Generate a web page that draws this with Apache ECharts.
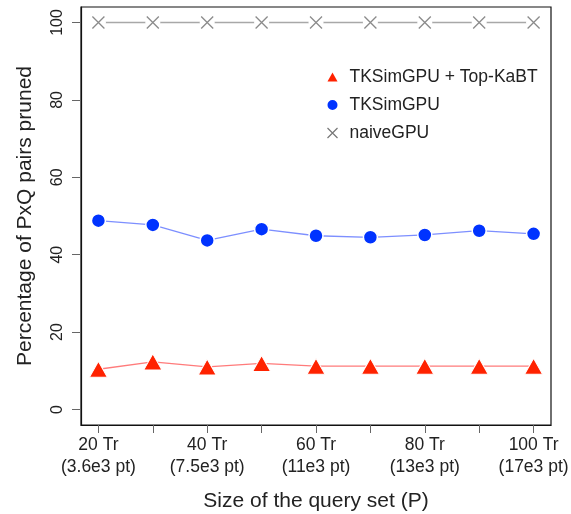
<!DOCTYPE html>
<html>
<head>
<meta charset="utf-8">
<script src="https://cdn.jsdelivr.net/npm/echarts@6/dist/echarts.min.js"></script>
<style>
  html, body { margin: 0; padding: 0; background: #fff; }
  #chart { width: 571px; height: 514px; }
</style>
</head>
<body>
<div id="chart"></div>
<script>
// Query-set sizes (number of trajectories)
const querySizes = [20, 30, 40, 50, 60, 70, 80, 90, 100];
// Labelled sizes and their point counts
const labelSizes = [20, 40, 60, 80, 100];
const labelPoints = ['3.6e3', '7.5e3', '11e3', '13e3', '17e3'];
// Percentage of PxQ pairs pruned
const topKabt = [10.4, 12.3, 11.0, 11.9, 11.2, 11.2, 11.2, 11.2, 11.2];
const tkSimGpu = [48.8, 47.7, 43.7, 46.6, 44.9, 44.5, 45.1, 46.2, 45.4];
const naiveGpu = [100, 100, 100, 100, 100, 100, 100, 100, 100];
const yTicks = [0, 20, 40, 60, 80, 100];

const FONT = '"Liberation Sans", Arial, Helvetica, sans-serif';
const pairs = arr => querySizes.map((x, i) => [x, arr[i]]);
const crossPath = 'path://M0,0L10,10M10,0L0,10';

const chart = echarts.init(document.getElementById('chart'), null, { renderer: 'canvas' });
chart.setOption({
  animation: false,
  backgroundColor: '#fff',
  textStyle: { fontFamily: FONT },
  grid: {
    left: 81, right: 20, top: 7, bottom: 89,
    outerBoundsMode: 'none',
    containLabel: false,
    show: true, borderColor: '#111', borderWidth: 1.2, backgroundColor: 'transparent'
  },
  legend: {
    orient: 'vertical',
    left: 320, top: 63,
    itemGap: 10,
    itemWidth: 10, itemHeight: 18,
    textStyle: { fontFamily: FONT, fontSize: 17.5, color: '#222', padding: [0, 0, 0, 7] },
    data: [
      { name: 'TKSimGPU + Top-KaBT', icon: 'path://M5,0L10,9L0,9Z', itemStyle: { color: '#ff2200', borderWidth: 0 } },
      { name: 'TKSimGPU', icon: 'path://M5,1A4,4,0,1,1,4.99,1Z', itemStyle: { color: '#0033ff', borderWidth: 0 } },
      { name: 'naiveGPU', icon: 'path://M1,1L9,9M9,1L1,9', itemStyle: { color: 'none', borderColor: '#777', borderWidth: 1.2 } }
    ]
  },
  xAxis: {
    type: 'value',
    min: 16.8, max: 103.2,
    name: 'Size of the query set (P)',
    nameLocation: 'middle',
    nameGap: 66,
    nameTextStyle: { fontFamily: FONT, fontSize: 21, color: '#222' },
    axisLine: { show: true, onZero: false, lineStyle: { color: '#111', width: 1.2 } },
    axisTick: { show: true, inside: false, length: 8, customValues: querySizes, lineStyle: { color: '#666', width: 1 } },
    axisLabel: {
      customValues: labelSizes,
      margin: 9,
      fontFamily: FONT, fontSize: 17.5, color: '#222', lineHeight: 22,
      formatter: v => {
        const i = labelSizes.indexOf(v);
        return i < 0 ? '' : v + ' Tr\n(' + labelPoints[i] + ' pt)';
      }
    },
    splitLine: { show: false }
  },
  yAxis: {
    type: 'value',
    min: -4, max: 104,
    name: 'Percentage of PxQ pairs pruned',
    nameLocation: 'middle',
    nameGap: 45,
    nameTextStyle: { fontFamily: FONT, fontSize: 21, color: '#222' },
    axisLine: { show: true, onZero: false, lineStyle: { color: '#111', width: 1.2 } },
    axisTick: { show: true, inside: false, length: 9, customValues: yTicks, lineStyle: { color: '#666', width: 1 } },
    axisLabel: {
      customValues: yTicks,
      rotate: 90, margin: 15,
      fontFamily: FONT, fontSize: 16, color: '#222'
    },
    splitLine: { show: false }
  },
  series: [
    {
      name: 'naiveGPU', type: 'line', data: pairs(naiveGpu),
      lineStyle: { color: '#a8a8a8', width: 1.6 },
      symbol: 'circle', symbolSize: 15,
      itemStyle: { color: '#fff', borderWidth: 0 },
      z: 2
    },
    {
      name: 'naiveGPU', type: 'scatter', data: pairs(naiveGpu),
      symbol: crossPath, symbolSize: 12,
      itemStyle: { color: 'none', borderColor: '#6e6e6e', borderWidth: 1.3 },
      z: 3
    },
    {
      name: 'TKSimGPU', type: 'line', data: pairs(tkSimGpu),
      lineStyle: { color: '#7d8fff', width: 1.3 },
      symbol: 'circle', symbolSize: 14,
      itemStyle: { color: '#0033ff', borderColor: '#fff', borderWidth: 1.5 },
      z: 4
    },
    {
      name: 'TKSimGPU + Top-KaBT', type: 'line', data: pairs(topKabt),
      lineStyle: { color: '#ff7b7b', width: 1.3 },
      symbol: 'triangle', symbolSize: [18, 16],
      itemStyle: { color: '#ff2200', borderColor: '#fff', borderWidth: 1 },
      z: 5
    }
  ]
});
</script>
</body>
</html>
